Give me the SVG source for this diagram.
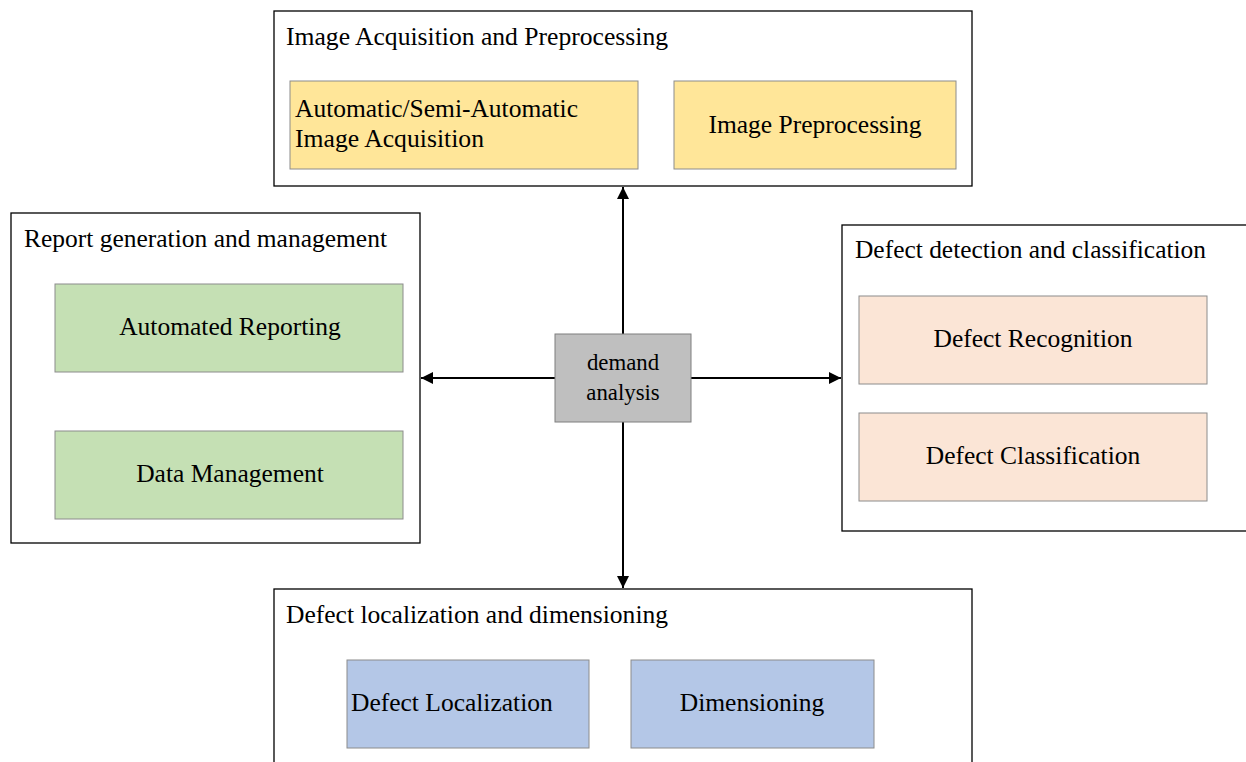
<svg xmlns="http://www.w3.org/2000/svg" width="1246" height="762" viewBox="0 0 1246 762">
<style>
text{font-family:"Liberation Serif","Times New Roman",serif;font-size:25.5px;fill:#000}
.group{fill:#fff;stroke:#000;stroke-width:1.3}
.inner{stroke:#8c8c8c;stroke-width:1}
.y{fill:#FFE699}.g{fill:#C5E0B4}.p{fill:#FBE5D6}.b{fill:#B4C7E7}
.c{text-anchor:middle}
.sm{font-size:22.8px}
.conn{stroke:#000;stroke-width:2;fill:none}
</style>
<defs>
<marker id="ah" viewBox="0 0 10 10" refX="10" refY="5" markerWidth="6" markerHeight="6" orient="auto" markerUnits="strokeWidth">
<path d="M0,0 L10,5 L0,10 z" fill="#000"/>
</marker>
</defs>
<rect width="1246" height="762" fill="#fff"/>
<g id="top">
<rect class="group" x="274" y="11" width="698" height="175"/>
<text x="286" y="45" textLength="382" lengthAdjust="spacingAndGlyphs">Image Acquisition and Preprocessing</text>
<rect class="inner y" x="290" y="81" width="348" height="88"/>
<text x="295" y="117" textLength="283" lengthAdjust="spacingAndGlyphs">Automatic/Semi-Automatic</text>
<text x="295" y="147" textLength="189" lengthAdjust="spacingAndGlyphs">Image Acquisition</text>
<rect class="inner y" x="674" y="81" width="282" height="88"/>
<text class="c" x="815" y="133">Image Preprocessing</text>
</g>
<g id="left">
<rect class="group" x="11" y="213" width="409" height="330"/>
<text x="24" y="247" textLength="363" lengthAdjust="spacingAndGlyphs">Report generation and management</text>
<rect class="inner g" x="55" y="284" width="348" height="88"/>
<text class="c" x="230" y="335">Automated Reporting</text>
<rect class="inner g" x="55" y="431" width="348" height="88"/>
<text class="c" x="230" y="482">Data Management</text>
</g>
<g id="right">
<rect class="group" x="842" y="225" width="410" height="306"/>
<text x="855" y="258" textLength="351" lengthAdjust="spacingAndGlyphs">Defect detection and classification</text>
<rect class="inner p" x="859" y="296" width="348" height="88"/>
<text class="c" x="1033" y="347">Defect Recognition</text>
<rect class="inner p" x="859" y="413" width="348" height="88"/>
<text class="c" x="1033" y="464">Defect Classification</text>
</g>
<g id="bottom">
<rect class="group" x="274" y="589" width="698" height="180"/>
<text x="286" y="623" textLength="382" lengthAdjust="spacingAndGlyphs">Defect localization and dimensioning</text>
<rect class="inner b" x="347" y="660" width="242" height="88"/>
<text x="351" y="711">Defect Localization</text>
<rect class="inner b" x="631" y="660" width="243" height="88"/>
<text class="c" x="752" y="711">Dimensioning</text>
</g>
<g id="connectors">
<line class="conn" x1="623" y1="334" x2="623" y2="187" marker-end="url(#ah)"/>
<line class="conn" x1="623" y1="422" x2="623" y2="588" marker-end="url(#ah)"/>
<line class="conn" x1="555" y1="378" x2="421" y2="378" marker-end="url(#ah)"/>
<line class="conn" x1="691" y1="378" x2="841" y2="378" marker-end="url(#ah)"/>
</g>
<g id="center">
<rect x="555" y="334" width="136" height="88" fill="#BFBFBF" stroke="#7f7f7f" stroke-width="1"/>
<text class="c sm" x="623" y="370">demand</text>
<text class="c sm" x="623" y="400">analysis</text>
</g>
</svg>
